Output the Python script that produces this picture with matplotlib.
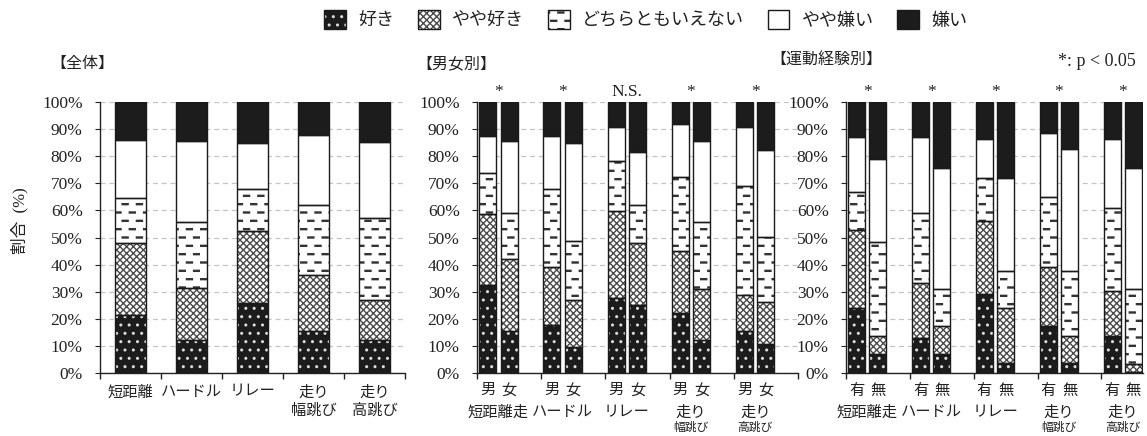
import matplotlib
matplotlib.use('Agg')
import matplotlib.pyplot as plt
import matplotlib.hatch as mhatch
from matplotlib.path import Path
from matplotlib.patches import Patch
from matplotlib.legend_handler import HandlerTuple
import numpy as np

plt.rcParams['font.family'] = ['Liberation Serif', 'Noto Sans CJK JP']
plt.rcParams['hatch.linewidth'] = 1.0
plt.rcParams['text.color'] = '#222222'
plt.rcParams['xtick.color'] = '#222222'
plt.rcParams['ytick.color'] = '#222222'

# answer levels, bottom to top
levels = ['好き', 'やや好き', 'どちらともいえない', 'やや嫌い', '嫌い']

events1 = ['短距離', 'ハードル', 'リレー', '走り\n幅跳び', '走り\n高跳び']
events2 = ['短距離走', 'ハードル', 'リレー', '走り\n幅跳び', '走り\n高跳び']
sex_labels = ['男', '女']
exp_labels = ['有', '無']

# percentages, one row per event, columns follow levels
overall = np.array([
    [21.5, 26.5, 16.5, 21.5, 14.0],
    [12.3, 18.9, 24.5, 29.8, 14.5],
    [25.8, 26.6, 15.4, 16.9, 15.3],
    [15.6, 20.6, 25.7, 25.8, 12.3],
    [12.3, 14.6, 30.3, 27.9, 14.9],
])
male = np.array([
    [32.6, 26.1, 15.0, 13.6, 12.7],
    [17.8, 21.4, 28.8, 19.3, 12.7],
    [27.8, 32.0, 18.6, 12.4, 9.2],
    [22.3, 22.6, 27.5, 19.5, 8.1],
    [15.4, 13.5, 40.2, 21.7, 9.2],
])
female = np.array([
    [15.6, 26.5, 16.9, 26.5, 14.5],
    [9.5, 17.4, 21.9, 36.1, 15.1],
    [25.2, 22.9, 13.8, 19.5, 18.6],
    [12.1, 18.8, 24.8, 29.8, 14.5],
    [10.8, 15.5, 24.0, 32.0, 17.7],
])
exp_yes = np.array([
    [23.9, 28.8, 14.0, 20.3, 13.0],
    [13.0, 20.3, 25.9, 27.8, 13.0],
    [29.2, 26.9, 16.0, 14.3, 13.6],
    [17.2, 21.8, 26.0, 23.4, 11.6],
    [13.8, 16.6, 30.4, 25.6, 13.6],
])
exp_no = np.array([
    [7.1, 6.6, 34.5, 30.8, 21.0],
    [7.1, 10.1, 13.8, 44.5, 24.5],
    [3.7, 20.3, 13.7, 34.4, 27.9],
    [3.7, 10.0, 24.0, 44.8, 17.5],
    [0.3, 3.1, 27.5, 44.6, 24.5],
])
sig_sex = ['*', '*', 'N.S.', '*', '*']
sig_exp = ['*', '*', '*', '*', '*']


# staggered short dashes for "どちらともいえない" (takes the place of the '*' hatch)
class DashHatch(mhatch.HatchPatternBase):
    def __init__(self, hatch, density):
        self.num_rows = hatch.count('*') * 2 * density
        self.num_cols = 7
        self.num_vertices = self.num_rows * self.num_cols * 5

    def set_vertices_and_codes(self, vertices, codes):
        p = 1.0 / self.num_cols
        h = 0.005
        i = 0
        for r in range(self.num_rows):
            y = (r + 0.5) / self.num_rows
            shift = 0.55 * p if r % 2 else 0.05 * p
            for c in range(self.num_cols):
                x0 = c * p + shift
                x1 = x0 + 0.42 * p
                vertices[i:i + 5] = [(x0, y - h), (x1, y - h), (x1, y + h), (x0, y + h), (x0, y - h)]
                codes[i:i + 5] = [Path.MOVETO, Path.LINETO, Path.LINETO, Path.LINETO, Path.CLOSEPOLY]
                i += 5


mhatch._hatch_types = [DashHatch if t is mhatch.Stars else t for t in mhatch._hatch_types]

styles = [
    dict(face='#1c1c1c', hatch='..', hc='#dddddd'),
    dict(face='white', hatch='xxxxx', hc='#4a4a4a'),
    dict(face='white', hatch='*', hc='#333333'),
    dict(face='white', hatch=None, hc='#1a1a1a'),
    dict(face='#1c1c1c', hatch=None, hc='#1a1a1a'),
]

W, H = 1147, 436


def fx(x):
    return x / W


def fy(y):
    return 1 - y / H


def stack(ax, x, data, width):
    bottom = np.zeros(len(x))
    for j, st in enumerate(styles):
        ax.bar(x, data[:, j], width, bottom=bottom, color=st['face'], edgecolor=st['hc'],
               hatch=st['hatch'], linewidth=0, zorder=2)
        ax.bar(x, data[:, j], width, bottom=bottom, fill=False, edgecolor='#1a1a1a',
               linewidth=1.0, zorder=3)
        bottom += data[:, j]


def setup(ax):
    ax.set_ylim(0, 100)
    ax.set_yticks(range(0, 101, 10))
    ax.set_yticklabels([f'{v}%' for v in range(0, 101, 10)])
    ax.yaxis.grid(True, color='#c4c4c4', linestyle=(0, (4, 3)), linewidth=0.9)
    ax.set_axisbelow(True)
    for s in ['top', 'right']:
        ax.spines[s].set_visible(False)
    for s in ['left', 'bottom']:
        ax.spines[s].set_color('#222222')
        ax.spines[s].set_linewidth(1.0)
    ax.tick_params(axis='y', length=3.5, pad=9, labelsize=12.5)
    ax.tick_params(axis='x', which='major', length=0, labelsize=11)
    ax.tick_params(axis='x', which='minor', length=4, width=1.0)


fig = plt.figure(figsize=(W / 100, H / 100), dpi=100)
bot, hgt = fy(373), fy(102) - fy(373)
ax1 = fig.add_axes([fx(100), bot, fx(405) - fx(100), hgt])
ax2 = fig.add_axes([fx(477), bot, fx(798) - fx(477), hgt])
ax3 = fig.add_axes([fx(846), bot, fx(1143) - fx(846), hgt])

# panel 1: all pupils
setup(ax1)
x1 = np.arange(len(events1))
stack(ax1, x1, overall, 0.52)
ax1.set_xlim(-0.5, len(events1) - 0.5)
ax1.set_xticks(x1)
ax1.set_xticklabels(events1, linespacing=1.35)
ax1.set_xticks(np.arange(-0.5, len(events1)), minor=True)
ax1.tick_params(axis='x', which='major', pad=9)


# panels 2 and 3: pairs of bars with an empty slot after each pair
def paired(ax, left, right, pair_labels, sig, xmax):
    setup(ax)
    g = np.arange(len(events2)) * 3
    stack(ax, g + 0.5, left, 0.8)
    stack(ax, g + 1.5, right, 0.8)
    ax.set_xlim(0, xmax)
    pos = np.sort(np.concatenate([g + 0.5, g + 1.5]))
    ax.set_xticks(pos)
    ax.set_xticklabels(pair_labels * len(events2))
    ax.set_xticks(np.arange(0, xmax + 0.01, 3), minor=True)
    ax.tick_params(axis='x', which='major', pad=8)
    tr = ax.get_xaxis_transform()
    for k, name in enumerate(events2):
        parts = name.split('\n')
        ax.text(g[k] + 1, -0.146, parts[0], transform=tr, ha='center', va='center', fontsize=11)
        if len(parts) > 1:
            ax.text(g[k] + 1, -0.203, parts[1], transform=tr, ha='center', va='center', fontsize=8.5)
        ax.text(g[k] + 1, 1.022, sig[k], transform=tr, ha='center', va='baseline', fontsize=12.5)


paired(ax2, male, female, sex_labels, sig_sex, 15)
paired(ax3, exp_yes, exp_no, exp_labels, sig_exp, 13.95)

fig.text(fx(50), fy(64), '【全体】', ha='left', va='center', fontsize=11.5)
fig.text(fx(416), fy(64), '【男女別】', ha='left', va='center', fontsize=11.5)
fig.text(fx(770), fy(61), '【運動経験別】', ha='left', va='center', fontsize=11.5)
fig.text(fx(1136), fy(66), '*: p < 0.05', ha='right', va='baseline', fontsize=13)
fig.text(fx(20), fy(221), '割合  (%)', rotation=90, ha='center', va='center', fontsize=12)

handles = [(Patch(facecolor=st['face'], edgecolor=st['hc'], hatch=st['hatch'], linewidth=0),
            Patch(fill=False, edgecolor='#1a1a1a', linewidth=1.0)) for st in styles]
fig.legend(handles, levels, loc='center', bbox_to_anchor=(fx(646), fy(20)), ncol=5,
           frameon=False, fontsize=13, handlelength=1.2, handleheight=1.2,
           handletextpad=0.7, columnspacing=1.3,
           handler_map={tuple: HandlerTuple(ndivide=1, pad=0)})

fig.savefig('out.png', dpi=100)
